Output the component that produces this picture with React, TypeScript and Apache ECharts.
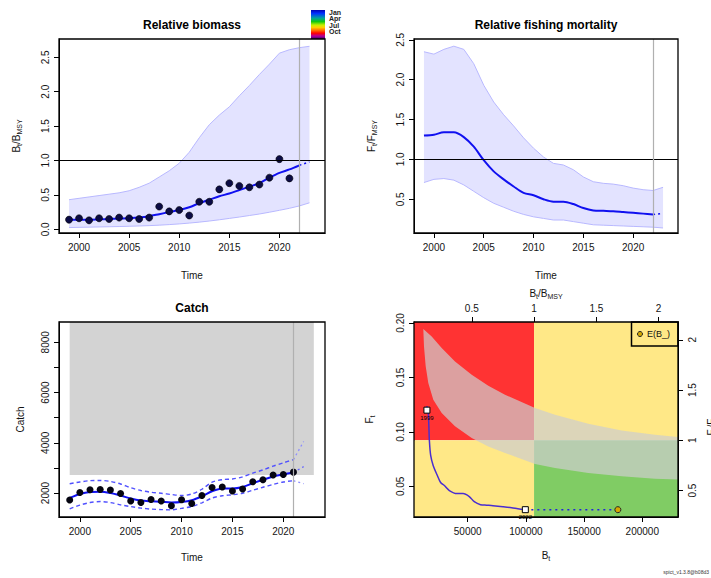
import React, { useEffect, useRef } from 'react';
import * as echarts from 'echarts';

// ---------- data ----------
const years = [1999, 2000, 2001, 2002, 2003, 2004, 2005, 2006, 2007, 2008, 2009, 2010, 2011, 2012, 2013, 2014, 2015, 2016, 2017, 2018, 2019, 2020, 2021, 2022, 2023];
const lastEstYear = 2022;
const lastCatchYear = 2021;

// Relative biomass B/Bmsy
const bioEst = [0.14, 0.14, 0.14, 0.145, 0.15, 0.155, 0.16, 0.17, 0.19, 0.22, 0.25, 0.28, 0.32, 0.38, 0.43, 0.48, 0.52, 0.57, 0.62, 0.67, 0.75, 0.82, 0.87, 0.93, 0.98];
const bioUpper = [0.43, 0.45, 0.47, 0.49, 0.51, 0.53, 0.56, 0.61, 0.67, 0.76, 0.85, 0.96, 1.12, 1.33, 1.52, 1.66, 1.78, 1.94, 2.09, 2.25, 2.4, 2.56, 2.61, 2.64, 2.66];
const bioLower = [0.025, 0.028, 0.031, 0.034, 0.037, 0.04, 0.044, 0.048, 0.053, 0.06, 0.068, 0.078, 0.09, 0.104, 0.12, 0.138, 0.158, 0.178, 0.2, 0.222, 0.248, 0.276, 0.305, 0.34, 0.385];
const obsYears = [1999, 2000, 2001, 2002, 2003, 2004, 2005, 2006, 2007, 2008, 2009, 2010, 2011, 2012, 2013, 2014, 2015, 2016, 2017, 2018, 2019, 2020, 2021];
const bioObs = [0.14, 0.16, 0.13, 0.16, 0.15, 0.17, 0.16, 0.15, 0.17, 0.33, 0.26, 0.28, 0.2, 0.4, 0.4, 0.58, 0.67, 0.63, 0.61, 0.65, 0.75, 1.02, 0.74];

// Relative fishing mortality F/Fmsy
const fEst = [1.3, 1.31, 1.34, 1.34, 1.28, 1.16, 0.99, 0.85, 0.75, 0.66, 0.58, 0.55, 0.5, 0.47, 0.47, 0.44, 0.39, 0.36, 0.355, 0.35, 0.34, 0.33, 0.32, 0.31, 0.32];
const fUpper = [2.35, 2.32, 2.38, 2.42, 2.38, 2.2, 1.93, 1.72, 1.56, 1.42, 1.27, 1.14, 1.03, 0.95, 0.93, 0.87, 0.78, 0.72, 0.7, 0.69, 0.67, 0.64, 0.62, 0.61, 0.65];
const fLower = [0.71, 0.75, 0.76, 0.74, 0.68, 0.6, 0.52, 0.45, 0.4, 0.35, 0.31, 0.28, 0.26, 0.24, 0.24, 0.22, 0.2, 0.18, 0.175, 0.17, 0.165, 0.16, 0.155, 0.15, 0.14];

// Catch
const catchObs = [1720, 2020, 2130, 2140, 2120, 1980, 1680, 1620, 1740, 1680, 1490, 1730, 1580, 1900, 2220, 2240, 2080, 2160, 2450, 2530, 2720, 2740, 2830];
const catchEst = [1800, 1960, 2040, 2050, 2000, 1900, 1780, 1700, 1670, 1650, 1620, 1640, 1710, 1870, 2070, 2180, 2180, 2240, 2390, 2530, 2660, 2740, 2820];
const catchUpper = [2370, 2440, 2490, 2500, 2460, 2360, 2210, 2100, 2030, 1990, 1940, 1900, 1960, 2150, 2430, 2530, 2560, 2640, 2790, 2920, 3070, 3200, 3330];
const catchLower = [1370, 1520, 1620, 1660, 1620, 1530, 1460, 1400, 1360, 1340, 1330, 1390, 1460, 1610, 1800, 1890, 1930, 1990, 2110, 2230, 2340, 2440, 2490];
const catchFcYear = 2022;
const catchFcEst = 3050;
const catchFcUpper = 4050;
const catchFcLower = 2370;
const catchShadeFrom = 2716;
const catchShadeYears = [1999, 2023];

// Kobe
const BMSY = 107000;
const FMSY = 0.0923;
const EBinf = 179000;
const bananaUpperB = [11860, 19070, 27660, 39090, 53440, 67700, 82040, 107820, 125000, 153600, 182300, 210900, 231000];
const bananaUpperF = [0.1945, 0.1877, 0.177, 0.1647, 0.1525, 0.1424, 0.1342, 0.122, 0.1158, 0.1076, 0.1014, 0.0975, 0.0953];
const bananaLowerB = [11860, 12460, 13920, 16150, 20450, 27660, 39090, 53440, 67700, 82040, 107820, 125000, 153600, 182300, 210900, 231000];
const bananaLowerF = [0.1945, 0.1785, 0.1602, 0.1449, 0.1296, 0.1174, 0.1051, 0.0944, 0.0867, 0.0807, 0.0706, 0.0669, 0.0623, 0.0592, 0.0571, 0.0562];

// ticks
const timeTicks = [2000, 2005, 2010, 2015, 2020];
const bioTicks = [0, 0.5, 1, 1.5, 2, 2.5];
const fTicks = [0.5, 1, 1.5, 2, 2.5];
const catchTicks = [2000, 3000, 4000, 5000, 6000, 7000, 8000];
const catchLabels = [2000, 4000, 6000, 8000];
const kobeBTicks = [50000, 100000, 150000, 200000];
const kobeFTicks = [0.05, 0.1, 0.15, 0.2];
const ratioTicks = [0.5, 1, 1.5, 2];
const months = ['Jan', 'Apr', 'Jul', 'Oct'];

// ---------- layout ----------
const FONT = "'Liberation Sans', Arial, Helvetica, sans-serif";
const TXT = '#141414';
const GRIDS = [
  { left: 59, top: 39, width: 266, height: 194 },
  { left: 414, top: 39, width: 264, height: 194 },
  { left: 59, top: 322, width: 266, height: 195 },
  { left: 414, top: 322, width: 264, height: 195 },
];
const KB_MIN = 3870, KB_MAX = 230660, KF_MIN = 0.0219, KF_MAX = 0.2009;

const richName = {
  n: { fontSize: 10, lineHeight: 14, color: TXT, fontFamily: FONT },
  s: { fontSize: 7, lineHeight: 8, verticalAlign: 'bottom', color: TXT, fontFamily: FONT },
};

function axis(o: any) {
  const { ticks, labels, fmt, rotate, margin, ...rest } = o;
  return {
    type: 'value',
    nameLocation: 'middle',
    nameTextStyle: { fontSize: 10, color: TXT, fontFamily: FONT, rich: richName },
    axisLine: { show: true, onZero: false, lineStyle: { color: '#000', width: 1 } },
    axisTick: { show: true, inside: false, length: 5, lineStyle: { color: '#000', width: 1 }, customValues: ticks },
    axisLabel: {
      customValues: labels || ticks,
      fontSize: 10,
      color: TXT,
      fontFamily: FONT,
      margin: margin ?? 9,
      rotate: rotate || 0,
      formatter: fmt || ((v: number) => String(v)),
      showMinLabel: true,
      showMaxLabel: true,
    },
    splitLine: { show: false },
    ...rest,
  };
}

const pairs = (xs: number[], ys: number[]) => xs.map((x, i) => [x, ys[i]]);

function line(xi: number, yi: number, data: number[][], color: string, width: number, type: any, z: number, extra: any = {}) {
  return {
    type: 'line', xAxisIndex: xi, yAxisIndex: yi, data, symbol: 'none', silent: true, z,
    lineStyle: { color, width, type },
    ...extra,
  };
}

function band(xi: number, yi: number, xs: number[], lo: number[], hi: number[], fill: string) {
  return {
    type: 'custom', xAxisIndex: xi, yAxisIndex: yi, silent: true, z: 1,
    data: [[xs[0], lo[0]]],
    renderItem: (_p: any, api: any) => {
      const pts: number[][] = [];
      for (let i = 0; i < xs.length; i++) pts.push(api.coord([xs[i], hi[i]]));
      for (let i = xs.length - 1; i >= 0; i--) pts.push(api.coord([xs[i], lo[i]]));
      return { type: 'polygon', shape: { points: pts }, style: { fill } };
    },
  };
}

function rectFrom(api: any, x0: number, x1: number, y0: number, y1: number) {
  const a = api.coord([x0, y1]);
  const b = api.coord([x1, y0]);
  return { x: a[0], y: a[1], width: b[0] - a[0], height: b[1] - a[1] };
}

const refLines = (xv: number, withH: boolean) => ({
  symbol: 'none', silent: true, label: { show: false },
  data: [
    ...(withH ? [{ yAxis: 1, lineStyle: { color: '#000', width: 1.2, type: 'solid' } }] : []),
    { xAxis: xv, lineStyle: { color: '#b0b0b0', width: 1.2, type: 'solid' } },
  ],
});

function buildOption() {
  const nEst = years.indexOf(lastEstYear);
  const estYears = years.slice(0, nEst + 1);
  const fcYears = years.slice(nEst);

  const traj = estYears.map((_, i) => [bioEst[i] * BMSY, fEst[i] * FMSY]);
  const trajEnd = traj[traj.length - 1];

  const xAxis = [
    axis({ gridIndex: 0, min: 1998.0, max: 2024.55, ticks: timeTicks, name: 'Time', nameGap: 37 }),
    axis({ gridIndex: 1, min: 1998.0, max: 2024.5, ticks: timeTicks, name: 'Time', nameGap: 37 }),
    axis({ gridIndex: 2, min: 1997.95, max: 2024.1, ticks: timeTicks, name: 'Time', nameGap: 35 }),
    axis({ gridIndex: 3, min: KB_MIN, max: KB_MAX, ticks: kobeBTicks, name: '{n|B}{s|t}', nameGap: 31 }),
    axis({ gridIndex: 3, position: 'top', min: KB_MIN / BMSY, max: KB_MAX / BMSY, ticks: ratioTicks, name: '{n|B}{s|t}{n|/B}{s|MSY}', nameGap: 22 }),
  ];
  const yAxis = [
    axis({ gridIndex: 0, min: -0.054, max: 2.766, ticks: bioTicks, fmt: (v: number) => v.toFixed(1), rotate: 90, name: '{n|B}{s|t}{n|/B}{s|MSY}', nameGap: 36, nameRotate: 90 }),
    axis({ gridIndex: 1, min: 0.077, max: 2.51, ticks: fTicks, fmt: (v: number) => v.toFixed(1), rotate: 90, name: '{n|F}{s|t}{n|/F}{s|MSY}', nameGap: 36, nameRotate: 90 }),
    axis({ gridIndex: 2, min: 1045, max: 8806, ticks: catchTicks, labels: catchLabels, rotate: 90, name: 'Catch', nameGap: 34, nameRotate: 90 }),
    axis({ gridIndex: 3, min: KF_MIN, max: KF_MAX, ticks: kobeFTicks, fmt: (v: number) => v.toFixed(2), rotate: 90, name: '{n|F}{s|t}', nameGap: 38, nameRotate: 90 }),
    axis({ gridIndex: 3, position: 'right', min: KF_MIN / FMSY, max: KF_MAX / FMSY, ticks: ratioTicks, rotate: 90, name: '{n|F}{s|t}{n|/F}{s|MSY}', nameGap: 26, nameRotate: 90 }),
  ];

  const series: any[] = [
    // ---- panel 1
    band(0, 0, years, bioLower, bioUpper, 'rgba(0,0,255,0.11)'),
    line(0, 0, pairs(years, bioUpper), '#b8b8ff', 1, 'solid', 2, { markLine: refLines(lastEstYear, true) }),
    line(0, 0, pairs(years, bioLower), '#b8b8ff', 1, 'solid', 2),
    line(0, 0, pairs(estYears, bioEst), '#1010f0', 2, 'solid', 3, { smooth: 0.3 }),
    line(0, 0, fcYears.map((y) => [y, bioEst[years.indexOf(y)]]), '#1010f0', 1.5, [2, 3], 3),
    { type: 'scatter', xAxisIndex: 0, yAxisIndex: 0, data: pairs(obsYears, bioObs), symbolSize: 7, z: 4, silent: true,
      itemStyle: { color: '#0b0b45', borderColor: '#000', borderWidth: 0.6, opacity: 1 } },

    // ---- panel 2
    band(1, 1, years, fLower, fUpper, 'rgba(0,0,255,0.11)'),
    line(1, 1, pairs(years, fUpper), '#b8b8ff', 1, 'solid', 2, { markLine: refLines(lastEstYear, true) }),
    line(1, 1, pairs(years, fLower), '#b8b8ff', 1, 'solid', 2),
    line(1, 1, pairs(estYears, fEst), '#1010f0', 2, 'solid', 3, { smooth: 0.3 }),
    line(1, 1, fcYears.map((y) => [y, fEst[years.indexOf(y)]]), '#1010f0', 1.5, [2, 3], 3),

    // ---- panel 3
    {
      type: 'custom', xAxisIndex: 2, yAxisIndex: 2, silent: true, z: 1,
      data: [[catchShadeYears[0], catchShadeFrom]],
      renderItem: (_p: any, api: any) => ({
        type: 'rect',
        shape: rectFrom(api, catchShadeYears[0], catchShadeYears[1], catchShadeFrom, 8806),
        style: { fill: '#d3d3d3' },
      }),
    },
    line(2, 2, pairs(obsYears, catchUpper), '#5050ff', 1.4, [4, 3], 2, { markLine: refLines(lastCatchYear, false), smooth: 0.3 }),
    line(2, 2, pairs(obsYears, catchLower), '#5050ff', 1.4, [4, 3], 2, { smooth: 0.3 }),
    line(2, 2, [[lastCatchYear, catchUpper[catchUpper.length - 1]], [catchFcYear, catchFcUpper]], '#8c8cff', 1.3, [2, 3], 2),
    line(2, 2, [[lastCatchYear, catchLower[catchLower.length - 1]], [catchFcYear, catchFcLower]], '#8c8cff', 1.3, [2, 3], 2),
    line(2, 2, pairs(obsYears, catchEst), '#1010f0', 2, 'solid', 3, { smooth: 0.3 }),
    line(2, 2, [[lastCatchYear, catchEst[catchEst.length - 1]], [catchFcYear, catchFcEst]], '#6060ff', 1.3, [2, 3], 3),
    { type: 'scatter', xAxisIndex: 2, yAxisIndex: 2, data: pairs(obsYears, catchObs), symbolSize: 7, z: 4, silent: true,
      itemStyle: { color: '#050510', opacity: 1 } },

    // ---- panel 4 (Kobe)
    {
      type: 'custom', xAxisIndex: 3, yAxisIndex: 3, silent: true, z: 1,
      data: [[KB_MIN, KF_MIN]],
      renderItem: (_p: any, api: any) => ({
        type: 'group',
        children: [
          { type: 'rect', shape: rectFrom(api, KB_MIN, BMSY, FMSY, KF_MAX), style: { fill: '#ff3333' } },
          { type: 'rect', shape: rectFrom(api, BMSY, KB_MAX, FMSY, KF_MAX), style: { fill: '#ffe887' } },
          { type: 'rect', shape: rectFrom(api, KB_MIN, BMSY, KF_MIN, FMSY), style: { fill: '#ffe887' } },
          { type: 'rect', shape: rectFrom(api, BMSY, KB_MAX, KF_MIN, FMSY), style: { fill: '#80cc64' } },
        ],
      }),
    },
    {
      type: 'custom', xAxisIndex: 3, yAxisIndex: 3, silent: true, z: 2, clip: true,
      data: [[bananaUpperB[0], bananaUpperF[0]]],
      renderItem: (_p: any, api: any) => {
        const pts: number[][] = [];
        for (let i = 0; i < bananaUpperB.length; i++) pts.push(api.coord([bananaUpperB[i], bananaUpperF[i]]));
        for (let i = bananaLowerB.length - 1; i >= 0; i--) pts.push(api.coord([bananaLowerB[i], bananaLowerF[i]]));
        return { type: 'polygon', shape: { points: pts, smooth: 0 }, style: { fill: 'rgba(206,206,206,0.71)' } };
      },
    },
    line(3, 3, traj, '#4a2ed0', 1.5, 'solid', 3, { smooth: 0.3 }),
    line(3, 3, [trajEnd, [EBinf, trajEnd[1]]], '#2020e0', 1.5, [2, 4], 3),
    {
      type: 'scatter', xAxisIndex: 3, yAxisIndex: 3, symbol: 'rect', symbolSize: 6, z: 4, silent: true,
      data: [
        { name: String(years[0]), value: traj[0] },
        { name: String(lastEstYear), value: trajEnd },
      ],
      itemStyle: { color: '#fff', borderColor: '#000', borderWidth: 1, opacity: 1 },
      label: { show: true, position: 'bottom', distance: 1, formatter: '{b}', fontSize: 6, color: '#000', fontFamily: FONT },
    },
    {
      type: 'scatter', xAxisIndex: 3, yAxisIndex: 3, symbol: 'circle', symbolSize: 6, z: 4, silent: true,
      data: [[EBinf, trajEnd[1]]],
      itemStyle: { color: '#d4a800', borderColor: '#222', borderWidth: 1, opacity: 1 },
    },
  ];

  const frames = GRIDS.map((g) => ({
    type: 'rect', z: 100, silent: true,
    shape: { x: g.left, y: g.top, width: g.width, height: g.height },
    style: { fill: 'none', stroke: '#000', lineWidth: 1.3 },
  }));

  const titleStyle = { fontSize: 12, fontWeight: 'bold', fill: '#000', fontFamily: FONT, textAlign: 'center', textVerticalAlign: 'middle' };

  const graphic: any[] = [
    ...frames,
    { type: 'text', x: 192, y: 25, style: { text: 'Relative biomass', ...titleStyle } },
    { type: 'text', x: 546, y: 25, style: { text: 'Relative fishing mortality', ...titleStyle } },
    { type: 'text', x: 192, y: 308, style: { text: 'Catch', ...titleStyle } },
    {
      type: 'rect', z: 50, shape: { x: 311, y: 10, width: 14, height: 29 },
      style: {
        fill: new echarts.graphic.LinearGradient(0, 0, 0, 1, [
          { offset: 0, color: '#0000b4' },
          { offset: 0.12, color: '#0030ff' },
          { offset: 0.28, color: '#00a0a0' },
          { offset: 0.4, color: '#10c810' },
          { offset: 0.52, color: '#c8f000' },
          { offset: 0.6, color: '#ffd000' },
          { offset: 0.7, color: '#ff7000' },
          { offset: 0.8, color: '#ff0000' },
          { offset: 0.9, color: '#b000a0' },
          { offset: 1, color: '#400060' },
        ]),
      },
    },
    ...months.map((m, i) => ({
      type: 'text', x: 329, y: 12 + i * 6.5,
      style: { text: m, fontSize: 7, fontWeight: 'bold', fill: '#222', fontFamily: FONT, textVerticalAlign: 'middle' },
    })),
    { type: 'rect', z: 100, shape: { x: 631.5, y: 322, width: 46.5, height: 24 }, style: { fill: 'none', stroke: '#000', lineWidth: 1.5 } },
    { type: 'circle', z: 101, shape: { cx: 640, cy: 334, r: 2.5 }, style: { fill: '#d4a800', stroke: '#222', lineWidth: 1 } },
    { type: 'text', z: 101, x: 647, y: 334, style: { text: 'E(B_)', fontSize: 9, fill: '#111', fontFamily: FONT, textVerticalAlign: 'middle' } },
    { type: 'text', x: 709, y: 572, style: { text: 'spict_v1.3.8@b08d3', fontSize: 5, fill: '#333', fontFamily: FONT, textAlign: 'right', textVerticalAlign: 'middle' } },
  ];

  return {
    animation: false,
    backgroundColor: '#fff',
    textStyle: { fontFamily: FONT },
    grid: GRIDS.map((g) => ({ ...g, containLabel: false, outerBoundsMode: 'none', show: false })),
    xAxis,
    yAxis,
    series,
    graphic,
  };
}

export default function App() {
  const ref = useRef<HTMLDivElement>(null);
  useEffect(() => {
    document.body.style.margin = '0';
    const chart = echarts.init(ref.current as HTMLDivElement, null, { renderer: 'svg' });
    chart.setOption(buildOption() as any);
    return () => chart.dispose();
  }, []);
  return <div ref={ref} style={{ width: 711, height: 578 }} />;
}
